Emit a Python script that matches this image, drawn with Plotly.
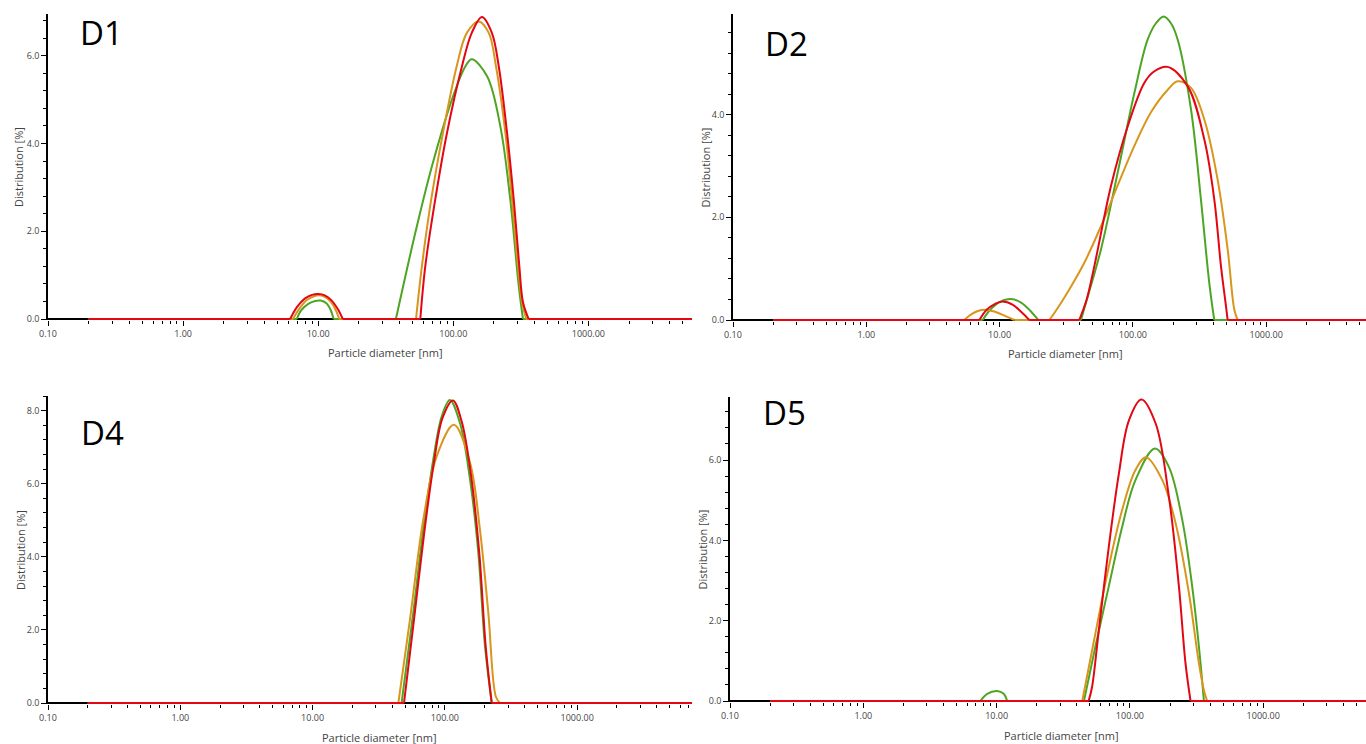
import plotly.graph_objects as go

# ---------------- data ----------------
X_START = 0.2      # first size class shown [nm]
X_END = 10000      # baseline runs to the right edge

# D1
d1_green_h1_x = [6.95, 7.5, 8.5, 9.5, 10.4, 11.5, 12.4, 13.0]
d1_green_h1_y = [0, 0.20, 0.35, 0.41, 0.42, 0.36, 0.20, 0]
d1_green_h2_x = [37.6, 40.5, 52.4, 69.5, 97.7, 123, 137, 178, 223, 264, 305, 328]
d1_green_h2_y = [0, 0.45, 1.97, 3.48, 5.00, 5.76, 5.92, 5.53, 4.39, 2.73, 0.76, 0]
d1_orange_h1_x = [6.5, 7.3, 8.3, 9.3, 10.2, 11.3, 12.5, 13.6, 14.3]
d1_orange_h1_y = [0, 0.25, 0.44, 0.52, 0.54, 0.50, 0.38, 0.18, 0]
d1_orange_h2_x = [53, 58.6, 68.7, 83.9, 106, 126, 154, 183, 207, 243, 272, 301, 323, 347]
d1_orange_h2_y = [0, 1.21, 2.73, 4.24, 5.76, 6.52, 6.78, 6.52, 5.76, 4.24, 2.73, 1.21, 0.38, 0]
d1_red_h1_x = [6.2, 7.0, 8.0, 9.0, 10.0, 11.2, 12.5, 14.0, 15.2]
d1_red_h1_y = [0, 0.28, 0.47, 0.55, 0.57, 0.54, 0.43, 0.22, 0]
d1_red_h2_x = [57, 62.1, 73.6, 89.8, 116, 137, 163, 193, 217, 250, 280, 308, 328, 361]
d1_red_h2_y = [0, 1.21, 2.73, 4.24, 5.76, 6.52, 6.88, 6.52, 5.76, 4.24, 2.73, 1.21, 0.38, 0]

# D2
d2_green_h1_x = [7.47, 8.5, 10.0, 12.2, 14.5, 17.0, 19.5]
d2_green_h1_y = [0, 0.20, 0.35, 0.41, 0.34, 0.18, 0]
d2_green_h2_x = [40.8, 47, 57.7, 76.9, 102.6, 129, 149, 170, 193, 217, 273, 324, 374, 408]
d2_green_h2_y = [0, 0.55, 1.38, 2.87, 4.42, 5.46, 5.78, 5.91, 5.78, 5.46, 4.10, 2.35, 0.73, 0]
d2_orange_h1_x = [5.43, 6.2, 7.5, 9.0, 11.0, 12.9]
d2_orange_h1_y = [0, 0.12, 0.20, 0.17, 0.08, 0]
d2_orange_h2_x = [23.6, 26, 32.4, 43.3, 57.7, 76.9, 103, 137, 182, 217, 273, 344, 432, 514, 577, 611]
d2_orange_h2_y = [0, 0.15, 0.54, 1.12, 1.83, 2.62, 3.40, 4.05, 4.48, 4.65, 4.52, 3.90, 2.74, 1.38, 0.20, 0]
d2_red_h1_x = [7.05, 8.0, 9.2, 10.5, 12.5, 14.5, 16.7]
d2_red_h1_y = [0, 0.20, 0.31, 0.36, 0.30, 0.16, 0]
d2_red_h2_x = [39.6, 45, 51.4, 68.5, 91.4, 122, 144, 182, 258, 344, 408, 458, 499, 514]
d2_red_h2_y = [0, 0.40, 1.05, 2.61, 3.77, 4.62, 4.84, 4.93, 4.55, 3.51, 2.35, 1.05, 0.28, 0]

# D4
d4_green_h1_x = [47.1, 57.7, 68.7, 81.7, 94.6, 109, 130, 155, 179, 201, 226]
d4_green_h1_y = [0, 2.47, 4.75, 6.66, 7.84, 8.29, 7.66, 6.11, 4.11, 1.56, 0]
d4_orange_h1_x = [44.5, 54.5, 68.7, 86.7, 117, 155, 184, 213, 243, 261]
d4_orange_h1_y = [0, 2.29, 5.02, 6.75, 7.61, 6.57, 4.75, 2.47, 0.17, 0]
d4_red_h1_x = [49.1, 58.5, 69.5, 82, 96, 115, 134, 158, 182, 204, 226]
d4_red_h1_y = [0, 2.30, 4.60, 6.50, 7.80, 8.28, 7.70, 6.20, 4.10, 1.50, 0]

# D5
d5_green_h1_x = [7.55, 8.5, 10.1, 11.3, 12.0]
d5_green_h1_y = [0, 0.18, 0.25, 0.18, 0]
d5_green_h2_x = [45.2, 55.2, 69.5, 87.5, 110, 154, 196, 247, 293, 329, 359]
d5_green_h2_y = [0, 1.37, 2.86, 4.34, 5.50, 6.29, 5.83, 4.51, 2.86, 1.37, 0]
d5_orange_h1_x = [43.9, 55.2, 69.5, 87.5, 110, 132, 175, 220, 277, 329, 360, 380]
d5_orange_h1_y = [0, 1.70, 3.35, 4.76, 5.75, 6.07, 5.50, 4.43, 2.69, 0.95, 0.25, 0]
d5_red_h1_x = [49, 52, 58.5, 69.5, 82.7, 98.3, 122, 156, 196, 233, 261, 285]
d5_red_h1_y = [0, 0.35, 1.78, 3.85, 5.67, 6.99, 7.51, 6.91, 5.09, 2.86, 0.95, 0]

x_tick_vals = [0.1, 1, 10, 100, 1000]
x_tick_text = ["0.10", "1.00", "10.00", "100.00", "1000.00"]

GREEN = "#4ea524"
ORANGE = "#d9961c"
RED = "#e30613"

panels = [
    dict(name="D1", series=[
        (GREEN, [(d1_green_h1_x, d1_green_h1_y), (d1_green_h2_x, d1_green_h2_y)]),
        (ORANGE, [(d1_orange_h1_x, d1_orange_h1_y), (d1_orange_h2_x, d1_orange_h2_y)]),
        (RED, [(d1_red_h1_x, d1_red_h1_y), (d1_red_h2_x, d1_red_h2_y)]),
    ]),
    dict(name="D2", series=[
        (GREEN, [(d2_green_h1_x, d2_green_h1_y), (d2_green_h2_x, d2_green_h2_y)]),
        (ORANGE, [(d2_orange_h1_x, d2_orange_h1_y), (d2_orange_h2_x, d2_orange_h2_y)]),
        (RED, [(d2_red_h1_x, d2_red_h1_y), (d2_red_h2_x, d2_red_h2_y)]),
    ]),
    dict(name="D4", series=[
        (GREEN, [(d4_green_h1_x, d4_green_h1_y)]),
        (ORANGE, [(d4_orange_h1_x, d4_orange_h1_y)]),
        (RED, [(d4_red_h1_x, d4_red_h1_y)]),
    ]),
    dict(name="D5", series=[
        (GREEN, [(d5_green_h1_x, d5_green_h1_y), (d5_green_h2_x, d5_green_h2_y)]),
        (ORANGE, [(d5_orange_h1_x, d5_orange_h1_y)]),
        (RED, [(d5_red_h1_x, d5_red_h1_y)]),
    ]),
]

# ---------------- layout geometry (pixels) ----------------
W, H = 1366, 744
geom = [
    dict(l=48, r=692, t=14, b=320, xmax=3.767, ymax=6.95, lab=(101, 33), xt=(385, 352), yt=18),
    dict(l=733, r=1366, t=14, b=321, xmax=3.749, ymax=5.96, lab=(786, 44), xt=(1065, 353), yt=705),
    dict(l=48, r=692, t=396, b=704, xmax=3.868, ymax=8.40, lab=(102, 432), xt=(379, 737), yt=20),
    dict(l=730, r=1366, t=397, b=702, xmax=3.771, ymax=7.57, lab=(784, 413), xt=(1061, 735), yt=702),
]

minor_vals = [m * 10 ** e for e in range(-1, 4) for m in range(2, 10)]
FONT = "Open Sans, Noto Sans, sans-serif"
tick_font = dict(family=FONT, size=9, color="#444")
title_font = dict(family=FONT, size=11, color="#444")

fig = go.Figure()
layout = dict(width=W, height=H, margin=dict(l=0, r=0, t=0, b=0, pad=0, autoexpand=False),
              paper_bgcolor="white", plot_bgcolor="white", showlegend=False,
              annotations=[])

for i, (p, g) in enumerate(zip(panels, geom), start=1):
    xa = "x" if i == 1 else f"x{i}"
    ya = "y" if i == 1 else f"y{i}"
    for color, humps in p["series"]:
        bx, by = [X_START], [0]
        for hx, hy in humps:
            bx += [hx[0], None, hx[-1]]
            by += [0, None, 0]
        bx.append(X_END)
        by.append(0)
        fig.add_trace(go.Scatter(x=bx, y=by, mode="lines", xaxis=xa, yaxis=ya,
                                 line=dict(color=color, width=2), hoverinfo="skip"))
        for hx, hy in humps:
            fig.add_trace(go.Scatter(x=hx, y=hy, mode="lines", xaxis=xa, yaxis=ya,
                                     line=dict(color=color, width=2, shape="spline", smoothing=1)))
    ppu = (g["b"] - g["t"]) / g["ymax"]
    ymin = -1.0 / ppu
    xkey = "xaxis" if i == 1 else f"xaxis{i}"
    ykey = "yaxis" if i == 1 else f"yaxis{i}"
    layout[xkey] = dict(
        type="log", range=[-1, g["xmax"]], domain=[g["l"] / W, g["r"] / W],
        anchor=ya, automargin=False, tickmode="array", tickvals=x_tick_vals, ticktext=x_tick_text,
        ticks="outside", ticklen=5, tickwidth=1, tickcolor="black",
        showline=False, showgrid=False, zeroline=False, tickfont=tick_font,
        minor=dict(ticks="outside", ticklen=3, tickwidth=1, tickcolor="black",
                   tickmode="array", tickvals=minor_vals, showgrid=False),
    )
    layout[ykey] = dict(
        range=[ymin, g["ymax"]], domain=[1 - g["b"] / H, 1 - g["t"] / H],
        anchor=xa, automargin=False, tickmode="linear", tick0=0, dtick=2, tickformat=".1f",
        ticks="outside", ticklen=5, tickwidth=1, tickcolor="black",
        showline=True, linecolor="black", linewidth=1.5,
        showgrid=False, zeroline=True, zerolinecolor="black", zerolinewidth=1.5,
        tickfont=tick_font, layer="below traces",
        minor=dict(ticks="outside", ticklen=3, tickwidth=1, tickcolor="black",
                   tick0=0, dtick=0.4, showgrid=False),
    )
    layout["annotations"] += [
        dict(text=p["name"], xref="paper", yref="paper", x=g["lab"][0] / W, y=1 - g["lab"][1] / H,
             xanchor="center", yanchor="middle", showarrow=False,
             font=dict(family=FONT, size=33, color="black")),
        dict(text="Particle diameter [nm]", xref="paper", yref="paper",
             x=g["xt"][0] / W, y=1 - g["xt"][1] / H, xanchor="center", yanchor="middle",
             showarrow=False, font=title_font),
        dict(text="Distribution [%]", xref="paper", yref="paper", textangle=-90,
             x=g["yt"] / W, y=1 - (g["t"] + g["b"]) / 2 / H, xanchor="center", yanchor="middle",
             showarrow=False, font=title_font),
    ]

fig.update_layout(**layout)
fig.write_html("out.html")
